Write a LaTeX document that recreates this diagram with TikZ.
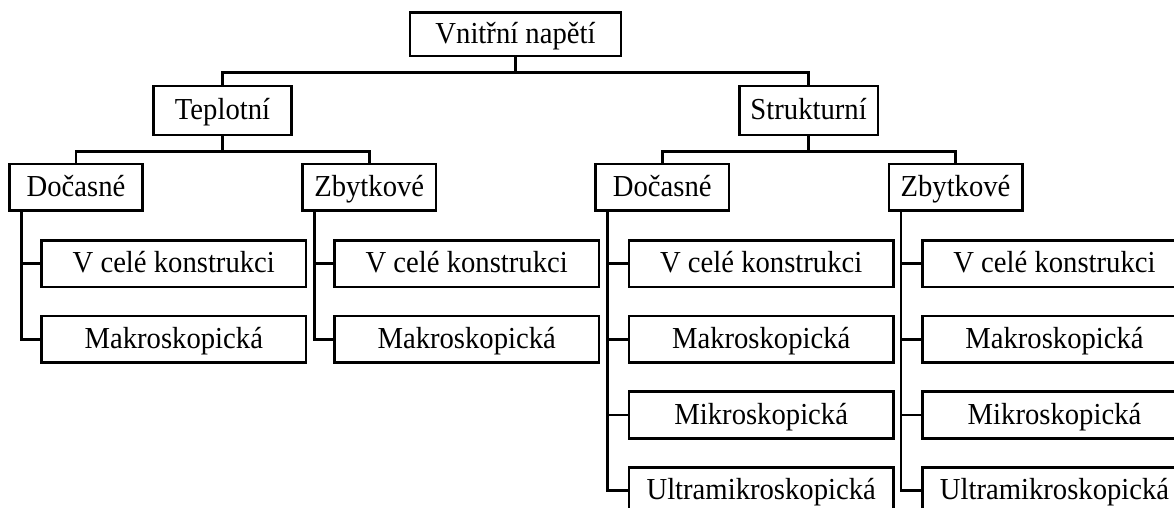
\documentclass[tikz,border=0pt]{standalone}
\usepackage{fontspec}
\setmainfont[FakeStretch=0.94]{Liberation Serif}
\begin{document}
\begin{tikzpicture}[x=1pt,y=-1pt,line width=2.6pt,line join=miter,
  box/.style={draw=black,inner sep=0pt,text=black,text height=18pt,text depth=0pt,
    font=\fontsize{30.5}{36}\selectfont},
  rootbox/.style={box,minimum width=211pt,minimum height=43.3pt},
  catbox/.style={box,minimum width=138.5pt,minimum height=49pt},
  subbox/.style={box,minimum width=133.4pt,minimum height=46.7pt},
  leafbox/.style={box,minimum width=264.3pt,minimum height=46.7pt},
  link/.style={draw=black}]
\useasboundingbox (0,0) rectangle (1174,508);
\clip (0,0) rectangle (1174,508);

\node[rootbox] (root) at (515.5,34.3) {Vnitřní napětí};
\node[catbox] (tep) at (222.5,110.5) {Teplotní};
\node[catbox] (str) at (808.6,110.5) {Strukturní};

\node[subbox] (td) at (76,187.3) {Dočasné};
\node[subbox] (tz) at (369.2,187.3) {Zbytkové};
\node[subbox] (sd) at (662.2,187.3) {Dočasné};
\node[subbox] (sz) at (955.5,187.3) {Zbytkové};

\node[leafbox] (td1) at (173.8,263.7) {V celé konstrukci};
\node[leafbox] (td2) at (173.8,339.3) {Makroskopická};
\node[leafbox] (tz1) at (466.7,263.7) {V celé konstrukci};
\node[leafbox] (tz2) at (466.7,339.3) {Makroskopická};
\node[leafbox] (sd1) at (761.2,263.7) {V celé konstrukci};
\node[leafbox] (sd2) at (761.2,339.3) {Makroskopická};
\node[leafbox] (sd3) at (761.2,415) {Mikroskopická};
\node[leafbox] (sd4) at (761.2,490.7) {Ultramikroskopická};
\node[leafbox] (sz1) at (1054.5,263.7) {V celé konstrukci};
\node[leafbox] (sz2) at (1054.5,339.3) {Makroskopická};
\node[leafbox] (sz3) at (1054.5,415) {Mikroskopická};
\node[leafbox] (sz4) at (1054.5,490.7) {Ultramikroskopická};

\draw[link] (root.south) -- ++(0,15) -| (tep.north);
\draw[link] (root.south) -- ++(0,15) -| (str.north);
\draw[link] (tep.south) -- ++(0,15) -| (td.north);
\draw[link] (tep.south) -- ++(0,15) -| (tz.north);
\draw[link] (str.south) -- ++(0,15) -| (sd.north);
\draw[link] (str.south) -- ++(0,15) -| (sz.north);

\draw[link] ([xshift=13.5pt]td.south west) |- (td1.west);
\draw[link] ([xshift=13.5pt]td.south west) |- (td2.west);
\draw[link] ([xshift=13.5pt]tz.south west) |- (tz1.west);
\draw[link] ([xshift=13.5pt]tz.south west) |- (tz2.west);
\draw[link] ([xshift=13.5pt]sd.south west) |- (sd1.west);
\draw[link] ([xshift=13.5pt]sd.south west) |- (sd2.west);
\draw[link] ([xshift=13.5pt]sd.south west) |- (sd3.west);
\draw[link] ([xshift=13.5pt]sd.south west) |- (sd4.west);
\draw[link] ([xshift=13.5pt]sz.south west) |- (sz1.west);
\draw[link] ([xshift=13.5pt]sz.south west) |- (sz2.west);
\draw[link] ([xshift=13.5pt]sz.south west) |- (sz3.west);
\draw[link] ([xshift=13.5pt]sz.south west) |- (sz4.west);
\end{tikzpicture}
\end{document}
